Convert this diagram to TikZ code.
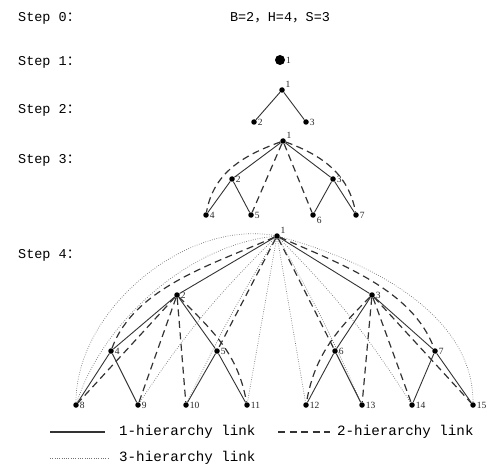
\documentclass[tikz,border=0pt]{standalone}
\usepackage{fontspec}
\setmainfont{Liberation Serif}
\newfontfamily\monof{Liberation Mono}
\newfontfamily\cjkf{Noto Sans CJK SC}
\begin{document}
\begin{tikzpicture}[x=1pt,y=1pt,
  dot/.style={circle,fill=black,inner sep=0pt,minimum size=5.5pt},
  bigdot/.style={circle,fill=black,inner sep=0pt,minimum size=10pt},
  lab/.style={font=\fontsize{9.5}{10}\selectfont,inner sep=0.8pt,text=black!85},
  steplab/.style={anchor=west,inner sep=0pt,font=\monof\fontsize{13.5}{15}\selectfont},
  leg/.style={anchor=west,inner sep=0pt,font=\monof\fontsize{14.2}{16}\selectfont},
  l1/.style={line width=0.9pt,black!80},
  l2/.style={line width=1.2pt,black!80,dash pattern=on 7pt off 4.5pt},
  l3/.style={line width=0.7pt,black!55,dash pattern=on 0.7pt off 1.6pt},
]
\useasboundingbox (0,0) rectangle (496,467);

% step labels
\node[steplab] (st0) at (18,449) {Step 0{\cjkf ：}};
\node[steplab] (st1) at (18,405) {Step 1{\cjkf ：}};
\node[steplab] (st2) at (18,357) {Step 2{\cjkf ：}};
\node[steplab] (st3) at (18,307) {Step 3{\cjkf ：}};
\node[steplab] (st4) at (18,212) {Step 4{\cjkf ：}};
\node[inner sep=0pt,font=\monof\fontsize{13.5}{15}\selectfont] (par) at (280,449) {B=2{\cjkf ，}H=4{\cjkf ，}S=3};

% step 1
\node[bigdot,label={[lab]right:1}] (s1) at (280,407) {};

% step 2
\node[dot,label={[lab]30:1}] (a1) at (282,377) {};
\node[dot,label={[lab]right:2}] (a2) at (254,345) {};
\node[dot,label={[lab]right:3}] (a3) at (306,345) {};
\draw[l1] (a1) -- (a2);
\draw[l1] (a1) -- (a3);

% step 3
\node[dot,label={[lab]30:1}] (b1) at (283,326) {};
\node[dot,label={[lab]right:2}] (b2) at (232,288) {};
\node[dot,label={[lab]right:3}] (b3) at (333,288) {};
\node[dot,label={[lab]right:4}] (b4) at (206,252) {};
\node[dot,label={[lab]right:5}] (b5) at (251,252) {};
\node[dot,label={[lab]-20:6}] (b6) at (313,252) {};
\node[dot,label={[lab]right:7}] (b7) at (356,252) {};
\draw[l1] (b1) -- (b2);
\draw[l1] (b1) -- (b3);
\draw[l1] (b2) -- (b4);
\draw[l1] (b2) -- (b5);
\draw[l1] (b3) -- (b6);
\draw[l1] (b3) -- (b7);
\draw[l2] (b1) to[out=200,in=80,looseness=1.0] (b4);
\draw[l2] (b1) -- (b5);
\draw[l2] (b1) -- (b6);
\draw[l2] (b1) to[out=-20,in=100,looseness=1.0] (b7);

% step 4
\node[dot,label={[lab]30:1}] (c1) at (277,231) {};
\node[dot,label={[lab]right:2}] (c2) at (177,172) {};
\node[dot,label={[lab]right:3}] (c3) at (372,172) {};
\node[dot,label={[lab]right:4}] (c4) at (111,116) {};
\node[dot,label={[lab]right:5}] (c5) at (217,116) {};
\node[dot,label={[lab]right:6}] (c6) at (335,116) {};
\node[dot,label={[lab]right:7}] (c7) at (435,116) {};
\foreach \n/\x in {8/76,9/138,10/186,11/247,12/306,13/362,14/412,15/473}
  \node[dot,label={[lab]right:\n}] (c\n) at (\x,62) {};

% 3-hierarchy links
\draw[l3] (c1) to[out=170,in=90,looseness=0.9] (c8);
\draw[l3] (c1) to[out=186,in=72,looseness=0.85] (c8);
\draw[l3] (c1) to[bend right=6] (c9);
\draw[l3] (c1) to[bend right=3] (c10);
\draw[l3] (c1) -- (c11);
\draw[l3] (c1) -- (c12);
\draw[l3] (c1) to[bend left=3] (c13);
\draw[l3] (c1) to[bend left=6] (c14);
\draw[l3] (c1) to[out=-15,in=90,looseness=0.9] (c15);

% 2-hierarchy links
\draw[l2] (c1) to[out=204,in=70,looseness=0.85] (c4);
\draw[l2] (c1) -- (c5);
\draw[l2] (c1) -- (c6);
\draw[l2] (c1) to[out=-24,in=110,looseness=0.85] (c7);
\draw[l2] (c2) -- (c8);
\draw[l2] (c2) -- (c9);
\draw[l2] (c2) -- (c10);
\draw[l2] (c2) to[out=-45,in=100] (c11);
\draw[l2] (c3) to[out=225,in=80] (c12);
\draw[l2] (c3) -- (c13);
\draw[l2] (c3) -- (c14);
\draw[l2] (c3) -- (c15);

% 1-hierarchy links
\draw[l1] (c1) -- (c2);
\draw[l1] (c1) -- (c3);
\draw[l1] (c2) -- (c4);
\draw[l1] (c2) -- (c5);
\draw[l1] (c3) -- (c6);
\draw[l1] (c3) -- (c7);
\draw[l1] (c4) -- (c8);
\draw[l1] (c4) -- (c9);
\draw[l1] (c5) -- (c10);
\draw[l1] (c5) -- (c11);
\draw[l1] (c6) -- (c12);
\draw[l1] (c6) -- (c13);
\draw[l1] (c7) -- (c14);
\draw[l1] (c7) -- (c15);

% legend
\coordinate (g1a) at (50,35);
\coordinate (g1b) at (105,35);
\draw[l1,line width=1.2pt] (g1a) -- (g1b);
\node[leg] (t1) at (119,35) {1-hierarchy link};
\coordinate (g2a) at (278,35);
\coordinate (g2b) at (330,35);
\draw[l2] (g2a) -- (g2b);
\node[leg] (t2) at (337,35) {2-hierarchy link};
\coordinate (g3a) at (50,9);
\coordinate (g3b) at (108,9);
\draw[l3] (g3a) -- (g3b);
\node[leg] (t3) at (119,9) {3-hierarchy link};
\end{tikzpicture}
\end{document}
